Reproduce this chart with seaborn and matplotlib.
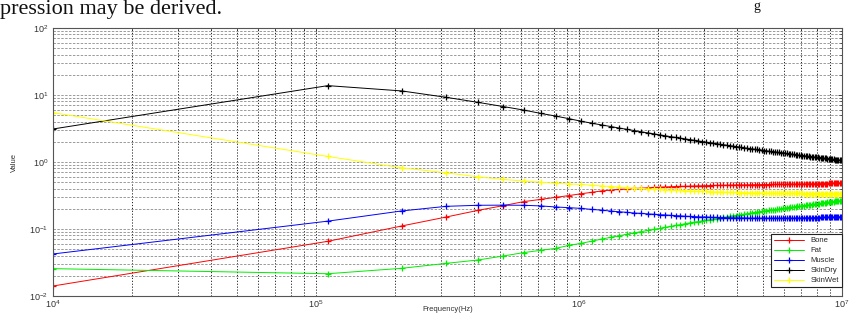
import numpy as np
import pandas as pd
import matplotlib
matplotlib.use("Agg")
import matplotlib.pyplot as plt
import seaborn as sns

# frequency sweep (Hz): 100 equally spaced samples from 10 kHz to 10 MHz
FREQ_START = 1e4
FREQ_STOP = 1e7
N_POINTS = 100

TISSUES = ["Bone", "Fat", "Muscle", "SkinDry", "SkinWet"]
COLORS = {"Bone": "#ff0000", "Fat": "#00ee00", "Muscle": "#0000ff",
          "SkinDry": "#000000", "SkinWet": "#ffff00"}

bone = [0.0141, 0.0655, 0.111, 0.151, 0.190, 0.223, 0.256, 0.277, 0.297, 0.316,
        0.336, 0.353, 0.370, 0.381, 0.389, 0.396, 0.403, 0.407, 0.412, 0.417,
        0.421, 0.424, 0.427, 0.430, 0.432, 0.434, 0.436, 0.438, 0.440, 0.441,
        0.443, 0.445, 0.446, 0.447, 0.448, 0.449, 0.450, 0.451, 0.452, 0.453,
        0.453, 0.454, 0.455, 0.456, 0.456, 0.457, 0.458, 0.458, 0.459, 0.460,
        0.460, 0.461, 0.461, 0.462, 0.462, 0.463, 0.464, 0.464, 0.465, 0.465,
        0.466, 0.466, 0.467, 0.467, 0.468, 0.468, 0.468, 0.469, 0.469, 0.470,
        0.470, 0.471, 0.471, 0.472, 0.472, 0.473, 0.473, 0.473, 0.474, 0.474,
        0.475, 0.475, 0.476, 0.476, 0.476, 0.477, 0.477, 0.477, 0.478, 0.478,
        0.479, 0.479, 0.479, 0.479, 0.480, 0.480, 0.480, 0.481, 0.481, 0.481]

fat = [0.0256, 0.0215, 0.0259, 0.0307, 0.0345, 0.0395, 0.0444, 0.0481, 0.0515, 0.0571,
       0.0611, 0.0659, 0.0708, 0.0752, 0.0794, 0.0836, 0.0877, 0.0914, 0.0951, 0.0987,
       0.102, 0.106, 0.109, 0.113, 0.116, 0.120, 0.123, 0.126, 0.129, 0.132,
       0.135, 0.137, 0.140, 0.143, 0.146, 0.149, 0.151, 0.154, 0.157, 0.159,
       0.162, 0.164, 0.167, 0.169, 0.171, 0.174, 0.176, 0.178, 0.181, 0.183,
       0.185, 0.187, 0.189, 0.191, 0.193, 0.195, 0.197, 0.199, 0.200, 0.203,
       0.205, 0.207, 0.208, 0.210, 0.212, 0.214, 0.215, 0.217, 0.219, 0.220,
       0.222, 0.224, 0.225, 0.227, 0.229, 0.230, 0.232, 0.233, 0.235, 0.237,
       0.238, 0.240, 0.241, 0.243, 0.244, 0.246, 0.247, 0.249, 0.251, 0.252,
       0.254, 0.255, 0.256, 0.258, 0.259, 0.261, 0.262, 0.263, 0.264, 0.264]

muscle = [0.0424, 0.131, 0.186, 0.218, 0.226, 0.227, 0.226, 0.221, 0.213, 0.208,
          0.203, 0.196, 0.191, 0.185, 0.181, 0.177, 0.173, 0.171, 0.168, 0.166,
          0.163, 0.162, 0.160, 0.158, 0.157, 0.155, 0.154, 0.153, 0.152, 0.151,
          0.151, 0.150, 0.149, 0.149, 0.148, 0.148, 0.147, 0.147, 0.147, 0.146,
          0.146, 0.146, 0.146, 0.146, 0.145, 0.145, 0.145, 0.145, 0.145, 0.145,
          0.145, 0.145, 0.145, 0.145, 0.145, 0.145, 0.145, 0.145, 0.145, 0.145,
          0.145, 0.145, 0.145, 0.145, 0.145, 0.145, 0.146, 0.146, 0.146, 0.146,
          0.146, 0.147, 0.147, 0.147, 0.147, 0.147, 0.147, 0.148, 0.148, 0.148,
          0.148, 0.148, 0.149, 0.149, 0.149, 0.149, 0.149, 0.150, 0.150, 0.150,
          0.150, 0.151, 0.151, 0.151, 0.151, 0.151, 0.152, 0.152, 0.152, 0.152]

skin_dry = [3.11, 13.8, 11.5, 9.23, 7.76, 6.73, 5.96, 5.31, 4.84, 4.42,
            4.06, 3.79, 3.57, 3.38, 3.21, 3.07, 2.94, 2.82, 2.72, 2.63,
            2.54, 2.46, 2.39, 2.33, 2.27, 2.21, 2.16, 2.11, 2.06, 2.02,
            1.98, 1.94, 1.91, 1.87, 1.84, 1.81, 1.78, 1.75, 1.73, 1.70,
            1.68, 1.65, 1.63, 1.61, 1.59, 1.57, 1.55, 1.54, 1.52, 1.50,
            1.48, 1.47, 1.45, 1.44, 1.42, 1.41, 1.40, 1.39, 1.37, 1.36,
            1.35, 1.34, 1.33, 1.32, 1.31, 1.30, 1.285, 1.276, 1.266, 1.257,
            1.248, 1.239, 1.230, 1.222, 1.214, 1.206, 1.198, 1.190, 1.183, 1.176,
            1.168, 1.161, 1.155, 1.148, 1.141, 1.135, 1.129, 1.122, 1.117, 1.111,
            1.105, 1.099, 1.093, 1.088, 1.082, 1.077, 1.072, 1.067, 1.062, 1.057]

skin_wet = [5.45, 1.21, 0.82, 0.69, 0.60, 0.55, 0.52, 0.50, 0.48, 0.47,
            0.462, 0.449, 0.439, 0.430, 0.421, 0.414, 0.408, 0.403, 0.398, 0.393,
            0.389, 0.385, 0.382, 0.379, 0.376, 0.373, 0.371, 0.368, 0.366, 0.364,
            0.363, 0.361, 0.359, 0.358, 0.357, 0.355, 0.354, 0.353, 0.352, 0.351,
            0.350, 0.349, 0.348, 0.347, 0.347, 0.346, 0.345, 0.345, 0.344, 0.343,
            0.343, 0.342, 0.342, 0.341, 0.341, 0.341, 0.340, 0.340, 0.340, 0.340,
            0.339, 0.339, 0.339, 0.339, 0.339, 0.339, 0.339, 0.339, 0.339, 0.339,
            0.339, 0.338, 0.338, 0.338, 0.338, 0.338, 0.338, 0.338, 0.338, 0.338,
            0.338, 0.338, 0.338, 0.338, 0.338, 0.338, 0.337, 0.337, 0.337, 0.337,
            0.337, 0.337, 0.337, 0.337, 0.336, 0.336, 0.336, 0.336, 0.336, 0.336]

freq = np.linspace(FREQ_START, FREQ_STOP, N_POINTS)
series = {"Bone": bone, "Fat": fat, "Muscle": muscle,
          "SkinDry": skin_dry, "SkinWet": skin_wet}

rows = []
for name in TISSUES:
    for f, v in zip(freq, series[name]):
        rows.append({"Frequency": f, "Value": v, "Tissue": name})
df = pd.DataFrame(rows)

sns.set_theme(style="white")
plt.rcParams["font.family"] = ["Liberation Sans", "DejaVu Sans"]
plt.rcParams["mathtext.default"] = "regular"

fig = plt.figure(figsize=(8.56, 3.14), dpi=100)
ax = fig.add_axes([53 / 856, 1 - 296 / 314, 789 / 856, 268 / 314])

sns.lineplot(data=df, x="Frequency", y="Value", hue="Tissue", hue_order=TISSUES,
             palette=COLORS, estimator=None, sort=False, marker="+",
             markersize=4.5, markeredgewidth=0.9, linewidth=0.7, ax=ax)

# seaborn draws marker edges white by default; use the line colour instead
for line in ax.lines:
    line.set_markeredgecolor(line.get_color())
    line.set_markerfacecolor(line.get_color())

ax.set_xscale("log")
ax.set_yscale("log")
ax.set_xlim(1e4, 1e7)
ax.set_ylim(1e-2, 1e2)

# MATLAB style grid: dark dotted verticals, grey dashed horizontals
ax.grid(True, which="both", axis="x", color="#222222", linestyle=(0, (1.2, 1.8)), linewidth=0.7)
ax.grid(True, which="both", axis="y", color="#9a9a9a", linestyle=(0, (2.5, 1.5)), linewidth=0.7)
ax.set_axisbelow(True)

ax.tick_params(which="both", direction="in", top=True, right=True,
               labelsize=6.5, colors="#333333", length=3, width=0.6)
ax.tick_params(axis="x", which="both", pad=1.5)
ax.tick_params(which="minor", length=1.5)
for s in ax.spines.values():
    s.set_color("#555555")
    s.set_linewidth(0.8)

ax.set_xlabel("Frequency(Hz)", fontsize=5.5, color="#333333")
ax.xaxis.set_label_coords(0.5, -(306 - 296) / 268)
ax.xaxis.label.set_va("top")
ax.set_ylabel("Value", fontsize=5.5, labelpad=8, color="#333333")

handles, labels = ax.get_legend_handles_labels()
for h in handles:
    h.set_markeredgecolor(h.get_color())
leg = ax.legend(handles, labels, loc="lower right", bbox_to_anchor=(1.0, 0.032),
                borderaxespad=0, fontsize=5.5, handlelength=4, labelspacing=0.35,
                frameon=True, fancybox=False, edgecolor="#222222", framealpha=1)
leg.get_frame().set_linewidth(0.8)

# fragments of the surrounding page text
fig.text(0.0, 1.0, "pression may be derived.", family="Liberation Serif",
         fontsize=16, ha="left", va="top", color="#111111")
fig.text(757 / 856, 1.0, "g", family="Liberation Serif",
         fontsize=10, ha="center", va="top", color="#111111")

fig.savefig("out.png", dpi=100)
